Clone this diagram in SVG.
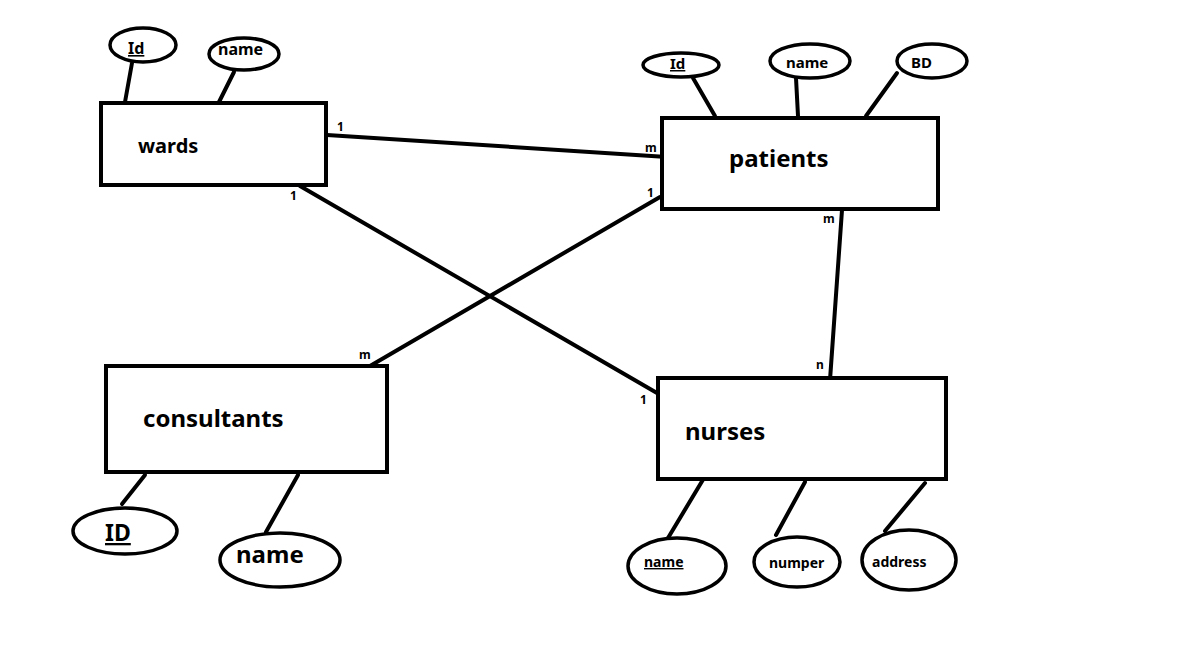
<svg xmlns="http://www.w3.org/2000/svg" width="1192" height="670" viewBox="0 0 1192 670">
<style>
.ent{fill:#fff;stroke:#000;stroke-width:4}
.att{fill:#fff;stroke:#000;stroke-width:3.5}
.ln{stroke:#000;stroke-width:4;fill:none;stroke-linecap:round}
text{font-family:"Noto Sans","Open Sans","DejaVu Sans",sans-serif;font-weight:bold;fill:#000}
.lbl{font-size:12px}
.u{text-decoration:underline}
</style>
<rect width="1192" height="670" fill="#fff"/>
<g id="connectors">
<line class="ln" x1="327" y1="135" x2="667" y2="157"/>
<line class="ln" x1="300" y1="186" x2="657" y2="393"/>
<line class="ln" x1="370" y1="366" x2="660" y2="197"/>
<line class="ln" x1="842" y1="210" x2="830" y2="380"/>
<line class="ln" x1="132" y1="63" x2="125" y2="102"/>
<line class="ln" x1="234" y1="72" x2="219" y2="102"/>
<line class="ln" x1="693" y1="78" x2="715" y2="116"/>
<line class="ln" x1="796" y1="78" x2="798" y2="116"/>
<line class="ln" x1="897" y1="73" x2="866" y2="116"/>
<line class="ln" x1="145" y1="475" x2="122" y2="504"/>
<line class="ln" x1="298" y1="475" x2="266" y2="532"/>
<line class="ln" x1="704" y1="478" x2="668" y2="538"/>
<line class="ln" x1="805" y1="482" x2="776" y2="535"/>
<line class="ln" x1="925" y1="483" x2="885" y2="531"/>
<text class="lbl" x="337" y="131">1</text>
<text class="lbl" x="645" y="152">m</text>
<text class="lbl" x="290" y="200">1</text>
<text class="lbl" x="640" y="404">1</text>
<text class="lbl" x="359" y="359">m</text>
<text class="lbl" x="647" y="197">1</text>
<text class="lbl" x="823" y="223">m</text>
<text class="lbl" x="816" y="369">n</text>
</g>
<g id="wards">
<rect class="ent" x="101" y="103" width="225" height="82"/>
<text x="138" y="153" font-size="20">wards</text>
</g>
<g id="wards-id">
<ellipse class="att" cx="143" cy="45" rx="33" ry="17"/>
<text x="128" y="54" font-size="16" class="u">Id </text>
</g>
<g id="wards-name">
<ellipse class="att" cx="244" cy="54" rx="35" ry="16"/>
<text x="218" y="55" font-size="16">name</text>
</g>
<g id="patients">
<rect class="ent" x="662" y="118" width="276" height="91"/>
<text x="729" y="167" font-size="24">patients</text>
</g>
<g id="patients-id">
<ellipse class="att" cx="681" cy="65" rx="38" ry="12"/>
<text x="670" y="69" font-size="15" class="u">Id</text>
</g>
<g id="patients-name">
<ellipse class="att" cx="810" cy="61" rx="40" ry="17"/>
<text x="786" y="68" font-size="15">name</text>
</g>
<g id="patients-bd">
<ellipse class="att" cx="932" cy="61" rx="35" ry="17"/>
<text x="911" y="68" font-size="15">BD</text>
</g>
<g id="consultants">
<rect class="ent" x="106" y="366" width="281" height="106"/>
<text x="143" y="427" font-size="24">consultants</text>
</g>
<g id="consultants-id">
<ellipse class="att" cx="125" cy="531" rx="52" ry="23"/>
<text x="105" y="541" font-size="23" class="u">ID</text>
</g>
<g id="consultants-name">
<ellipse class="att" cx="280" cy="560" rx="60" ry="27"/>
<text x="236" y="563" font-size="24">name</text>
</g>
<g id="nurses">
<rect class="ent" x="658" y="378" width="288" height="101"/>
<text x="685" y="440" font-size="24">nurses</text>
</g>
<g id="nurses-name">
<ellipse class="att" cx="677" cy="566" rx="49" ry="28"/>
<text x="644" y="567" font-size="14" class="u">name </text>
</g>
<g id="nurses-numper">
<ellipse class="att" cx="797" cy="562" rx="43" ry="25"/>
<text x="769" y="568" font-size="14">numper</text>
</g>
<g id="nurses-address">
<ellipse class="att" cx="909" cy="560" rx="47" ry="30"/>
<text x="872" y="567" font-size="14">address</text>
</g>
</svg>
